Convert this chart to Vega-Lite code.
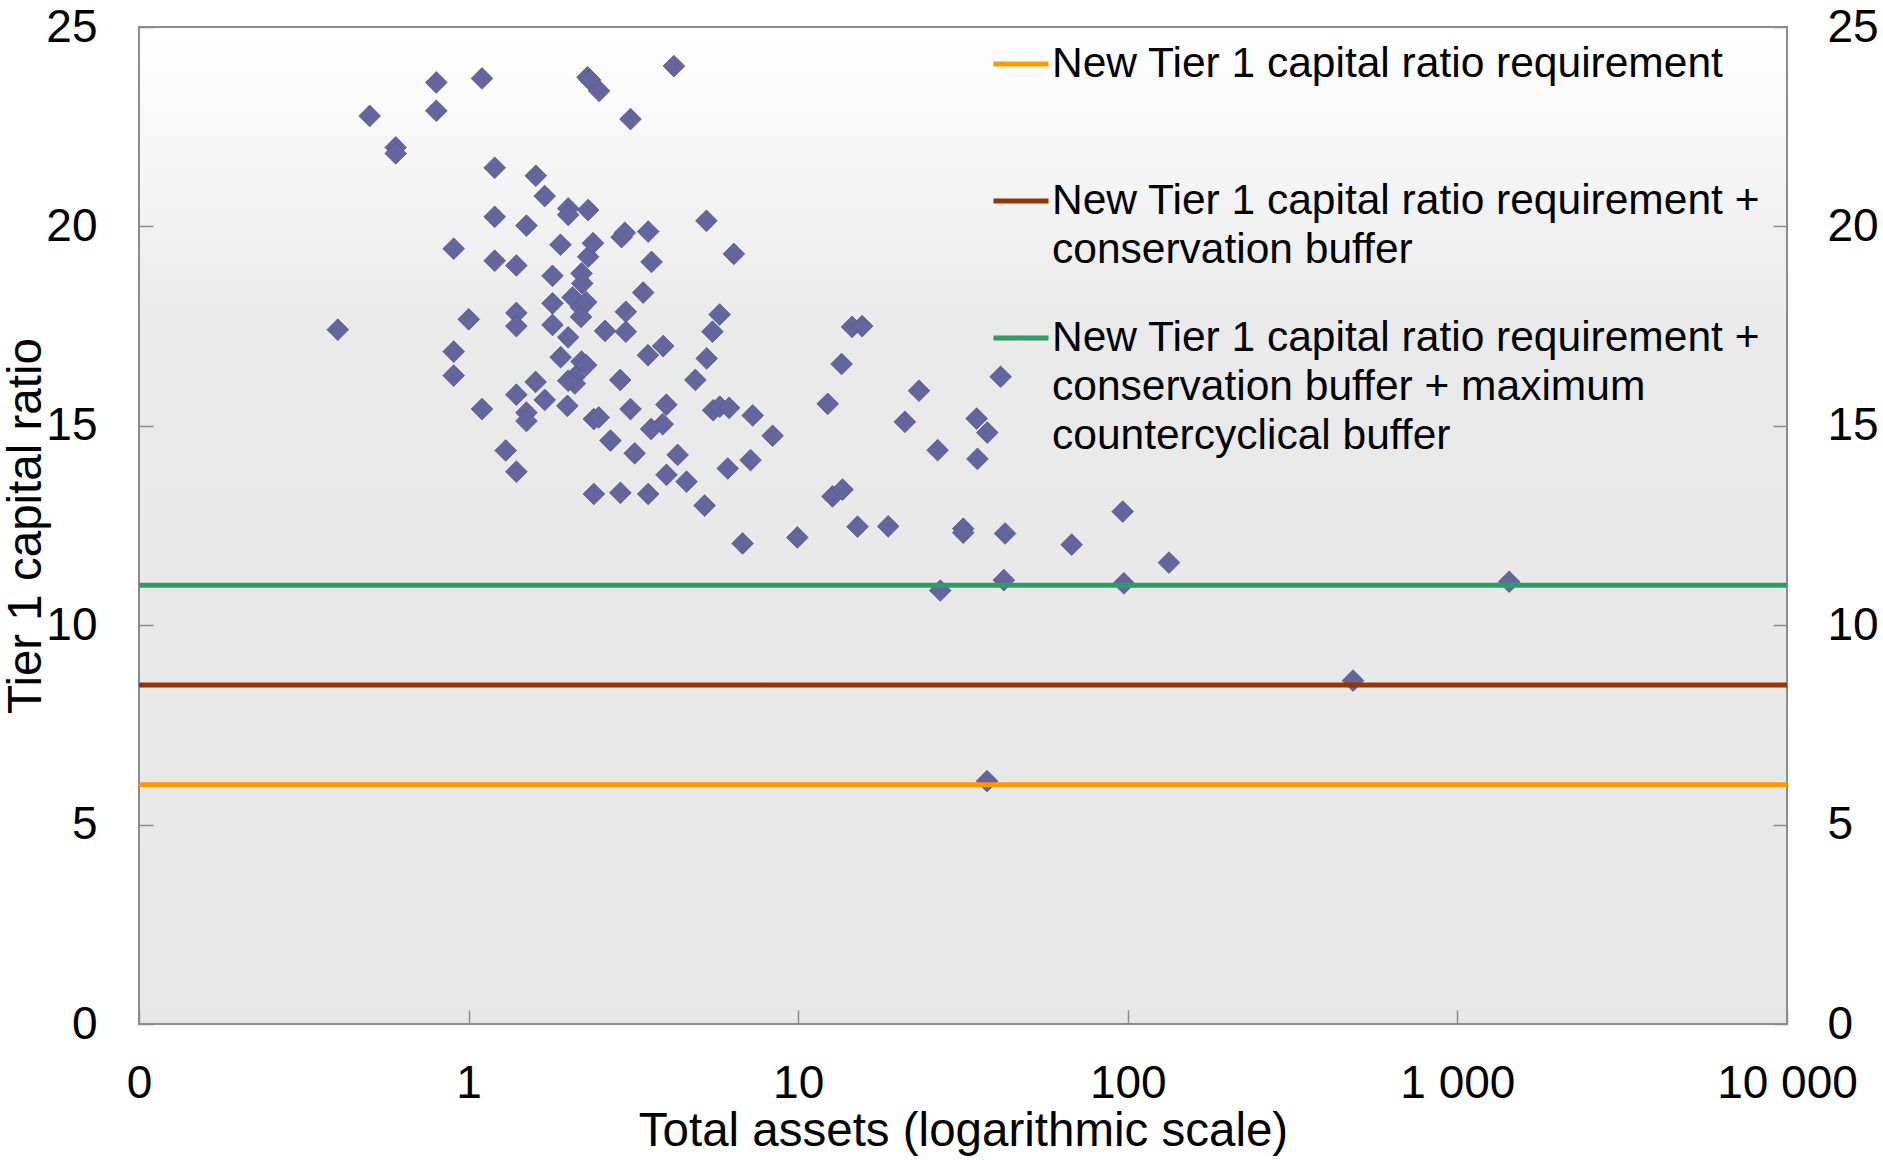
{
  "$schema": "https://vega.github.io/schema/vega-lite/v6.json",
  "width": 1648,
  "height": 997,
  "autosize": {"type": "none"},
  "padding": {"left": 139, "top": 27, "right": 96, "bottom": 136},
  "background": "#ffffff",
  "config": {
    "font": "Liberation Sans",
    "style": {"guide-label": {"lineHeight": 49}},
    "view": {
      "fill": {"gradient": "linear", "x1": 0, "y1": 0, "x2": 0, "y2": 1,
        "stops": [{"offset": 0, "color": "#ffffff"}, {"offset": 0.3, "color": "#eaeaea"}, {"offset": 1, "color": "#e7e7e7"}]},
      "stroke": "#8c8c8c",
      "strokeWidth": 2
    },
    "axis": {
      "grid": false,
      "domain": false,
      "tickColor": "#8c8c8c",
      "tickWidth": 1.5,
      "tickSize": -14,
      "labelFont": "Liberation Sans",
      "labelFontSize": 46,
      "labelColor": "#000000",
      "titleFont": "Liberation Sans",
      "titleFontSize": 47.5,
      "titleFontWeight": "normal",
      "titleColor": "#000000"
    }
  },
  "resolve": {"axis": {"y": "independent"}},
  "layer": [
    {
      "data": {"values": [
        {"assets":0.401,"ratio":17.41},{"assets":0.501,"ratio":22.77},{"assets":0.601,"ratio":21.98},{"assets":0.601,"ratio":21.83},
        {"assets":0.798,"ratio":23.61},{"assets":0.798,"ratio":22.90},{"assets":1.098,"ratio":23.71},{"assets":0.901,"ratio":19.44},
        {"assets":0.901,"ratio":16.86},{"assets":0.901,"ratio":16.26},{"assets":1.001,"ratio":17.67},{"assets":1.098,"ratio":15.42},
        {"assets":1.2,"ratio":21.47},{"assets":1.2,"ratio":20.24},{"assets":1.2,"ratio":19.14},{"assets":1.296,"ratio":14.38},
        {"assets":1.396,"ratio":19.02},{"assets":1.396,"ratio":17.83},{"assets":1.396,"ratio":17.5},{"assets":1.396,"ratio":15.78},
        {"assets":1.396,"ratio":13.85},{"assets":1.498,"ratio":20.02},{"assets":1.498,"ratio":15.33},{"assets":1.498,"ratio":15.12},
        {"assets":1.599,"ratio":21.27},{"assets":1.597,"ratio":16.10},{"assets":1.702,"ratio":20.76},{"assets":1.702,"ratio":15.65},
        {"assets":1.797,"ratio":18.76},{"assets":1.797,"ratio":18.07},{"assets":1.797,"ratio":17.53},{"assets":1.9,"ratio":19.54},
        {"assets":1.902,"ratio":16.72},{"assets":2.005,"ratio":20.45},{"assets":2.005,"ratio":20.29},{"assets":2.005,"ratio":17.22},
        {"assets":1.994,"ratio":15.5},{"assets":2.101,"ratio":16.23},{"assets":2.068,"ratio":18.22},{"assets":2.101,"ratio":16.06},
        {"assets":2.005,"ratio":16.13},{"assets":2.201,"ratio":18.82},{"assets":2.212,"ratio":18.57},{"assets":2.193,"ratio":17.97},
        {"assets":2.193,"ratio":17.73},{"assets":2.201,"ratio":16.61},{"assets":2.274,"ratio":16.52},{"assets":2.295,"ratio":23.74},
        {"assets":2.336,"ratio":23.67},{"assets":2.305,"ratio":20.41},{"assets":2.305,"ratio":19.24},{"assets":2.274,"ratio":18.10},
        {"assets":2.385,"ratio":19.58},{"assets":2.399,"ratio":15.17},{"assets":2.399,"ratio":13.29},{"assets":2.488,"ratio":23.40},
        {"assets":2.483,"ratio":15.21},{"assets":2.594,"ratio":17.38},{"assets":2.694,"ratio":14.63},{"assets":2.911,"ratio":19.73},
        {"assets":2.884,"ratio":16.15},{"assets":2.887,"ratio":13.32},{"assets":2.978,"ratio":19.84},{"assets":3.0,"ratio":17.86},
        {"assets":3.0,"ratio":17.36},{"assets":3.099,"ratio":22.69},{"assets":3.099,"ratio":15.42},{"assets":3.191,"ratio":14.31},
        {"assets":3.386,"ratio":18.34},{"assets":3.506,"ratio":19.87},{"assets":3.5,"ratio":16.77},{"assets":3.506,"ratio":13.29},
        {"assets":3.578,"ratio":14.92},{"assets":3.589,"ratio":19.11},{"assets":3.894,"ratio":17.0},{"assets":3.881,"ratio":15.04},
        {"assets":3.981,"ratio":15.53},{"assets":3.984,"ratio":13.77},{"assets":4.196,"ratio":24.02},{"assets":4.307,"ratio":14.27},
        {"assets":4.583,"ratio":13.60},{"assets":4.876,"ratio":16.15},{"assets":5.201,"ratio":13.0},{"assets":5.268,"ratio":20.14},
        {"assets":5.277,"ratio":16.69},{"assets":5.494,"ratio":17.36},{"assets":5.521,"ratio":15.39},{"assets":5.781,"ratio":15.48},
        {"assets":5.776,"ratio":17.79},{"assets":6.17,"ratio":15.45},{"assets":6.113,"ratio":13.93},{"assets":6.379,"ratio":19.31},
        {"assets":6.781,"ratio":12.05},{"assets":7.167,"ratio":14.14},{"assets":7.277,"ratio":15.26},{"assets":8.364,"ratio":14.75},
        {"assets":9.94,"ratio":12.2},{"assets":12.29,"ratio":15.55},{"assets":12.71,"ratio":13.23},{"assets":13.54,"ratio":16.55},
        {"assets":13.63,"ratio":13.4},{"assets":14.57,"ratio":17.48},{"assets":15.14,"ratio":12.47},{"assets":15.63,"ratio":17.5},
        {"assets":18.75,"ratio":12.48},{"assets":21.07,"ratio":15.1},{"assets":23.25,"ratio":15.88},{"assets":26.49,"ratio":14.39},
        {"assets":26.97,"ratio":10.87},{"assets":31.67,"ratio":12.42},{"assets":31.67,"ratio":12.32},{"assets":34.78,"ratio":15.18},
        {"assets":34.98,"ratio":14.17},{"assets":37.47,"ratio":14.83},{"assets":37.41,"ratio":6.09},{"assets":41.13,"ratio":16.23},
        {"assets":42.07,"ratio":11.13},{"assets":42.43,"ratio":12.3},{"assets":67.56,"ratio":12.02},{"assets":96.5,"ratio":12.85},
        {"assets":97.3,"ratio":11.05},{"assets":133.3,"ratio":11.57},{"assets":482.4,"ratio":8.61},{"assets":1436,"ratio":11.09}
      ]},
      "mark": {"type": "point", "shape": "diamond", "filled": true, "size": 470, "color": "#63659c", "opacity": 1, "stroke": "#56588e", "strokeWidth": 0.8},
      "encoding": {
        "x": {
          "field": "assets", "type": "quantitative",
          "scale": {"type": "log", "domain": [0.1, 10000]},
          "axis": {
            "values": [0.1, 1, 10, 100, 1000, 10000],
            "labelExpr": "datum.value < 0.5 ? '0' : datum.value >= 10000 ? '10 000' : datum.value >= 1000 ? '1 000' : format(datum.value, 'd')",
            "labelPadding": 51,
            "labelFlush": false,
            "title": "Total assets (logarithmic scale)",
            "titlePadding": 1
          }
        },
        "y": {
          "field": "ratio", "type": "quantitative",
          "scale": {"domain": [0, 25], "nice": false, "zero": true},
          "axis": {
            "orient": "left",
            "values": [0, 5, 10, 15, 20, 25],
            "labelPadding": 56,
            "labelFlush": false,
            "title": "Tier 1 capital ratio",
            "titlePadding": -5
          }
        }
      }
    },
    {
      "data": {"values": [
        {"series": "New Tier 1 capital ratio requirement", "ratio": 6},
        {"series": "New Tier 1 capital ratio requirement + conservation buffer", "ratio": 8.5},
        {"series": "New Tier 1 capital ratio requirement + conservation buffer + maximum countercyclical buffer", "ratio": 11}
      ]},
      "mark": {"type": "rule", "strokeWidth": 5},
      "encoding": {
        "y": {
          "field": "ratio", "type": "quantitative",
          "scale": {"domain": [0, 25], "nice": false, "zero": true},
          "axis": {
            "orient": "right",
            "values": [0, 5, 10, 15, 20, 25],
            "labelPadding": 54,
            "labelFlush": false,
            "title": null
          }
        },
        "color": {
          "field": "series", "type": "nominal",
          "scale": {
            "domain": [
              "New Tier 1 capital ratio requirement",
              "New Tier 1 capital ratio requirement + conservation buffer",
              "New Tier 1 capital ratio requirement + conservation buffer + maximum countercyclical buffer"
            ],
            "range": ["#ff9900", "#993300", "#339966"]
          },
          "legend": {
            "orient": "none",
            "legendX": 852,
            "legendY": 7,
            "title": null,
            "padding": 0,
            "symbolType": "stroke",
            "symbolSize": 3025,
            "symbolStrokeWidth": 5,
            "labelFont": "Liberation Sans",
            "labelFontSize": 42.5,
            "labelBaseline": "middle",
            "labelColor": "#000000",
            "labelLimit": 2000,
            "labelOffset": 1,
            "rowPadding": 36,
            "labelExpr": "datum.label == 'New Tier 1 capital ratio requirement' ? ['New Tier 1 capital ratio requirement', ''] : datum.label == 'New Tier 1 capital ratio requirement + conservation buffer' ? ['New Tier 1 capital ratio requirement +', 'conservation buffer'] : ['New Tier 1 capital ratio requirement +', 'conservation buffer + maximum', 'countercyclical buffer']"
          }
        }
      }
    }
  ]
}
